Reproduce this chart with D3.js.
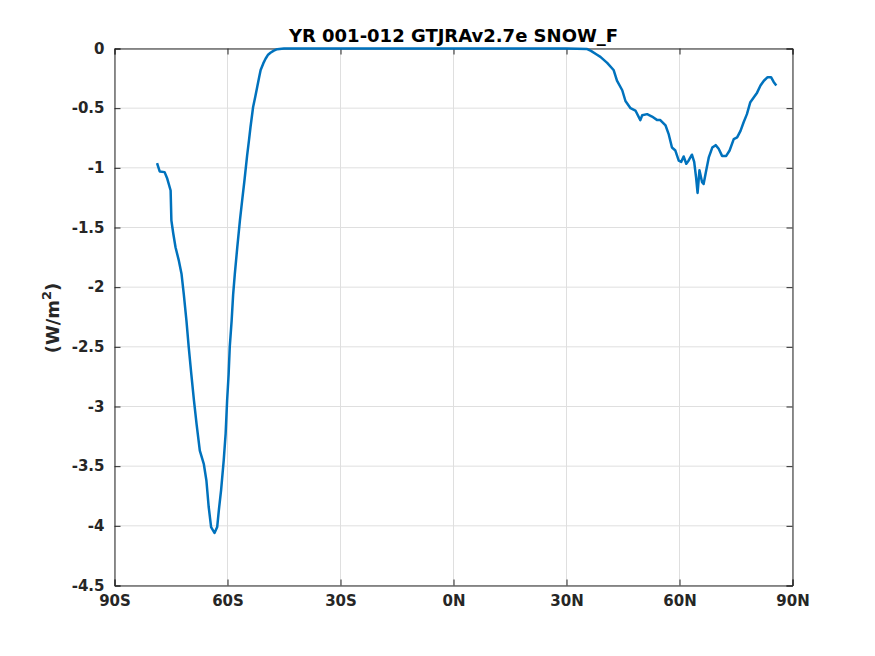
<!DOCTYPE html>
<html><head><meta charset="utf-8">
<script src="https://d3js.org/d3.v7.min.js"></script>
<style>body{margin:0;background:#fff}svg{display:block}text{font-family:"DejaVu Sans",sans-serif;font-weight:bold;fill:#262626}</style>
</head><body>
<script>
const lats = [-78.7,-78.0,-76.7,-76.0,-75.1,-74.9,-74.4,-73.8,-72.9,-72.2,-71.6,-70.9,-70.3,-69.6,-68.9,-68.2,-67.35,-66.3,-65.6,-65.0,-64.35,-63.45,-62.74,-62.3,-61.7,-61.0,-60.5,-60.1,-59.7,-59.4,-58.9,-58.5,-58.06,-57.4,-56.7,-56.1,-55.5,-54.8,-54.3,-53.9,-53.2,-52.6,-52.1,-51.6,-51.2,-50.5,-49.9,-49.3,-48.6,-47.7,-46.8,-45,0,30,35.5,36.5,38.0,39.0,40.8,42.5,43.4,44.8,45.65,47.0,48.3,49.6,50.1,51.4,52.7,54.1,54.9,56.3,57.1,58.0,58.9,59.8,60.45,61.1,61.8,62.4,63.3,63.9,64.4,64.8,65.3,66.0,66.4,67.1,67.8,68.7,69.6,70.4,71.3,72.4,73.3,74.4,75.3,76.2,77.0,77.9,78.8,79.7,80.6,81.5,82.4,83.4,84.3,85.0,85.7];
const snowF = [-0.96,-1.03,-1.036,-1.09,-1.19,-1.44,-1.55,-1.665,-1.78,-1.89,-2.06,-2.28,-2.50,-2.73,-2.95,-3.15,-3.37,-3.48,-3.62,-3.84,-4.01,-4.06,-4.01,-3.87,-3.70,-3.45,-3.23,-2.95,-2.73,-2.50,-2.28,-2.06,-1.89,-1.665,-1.44,-1.27,-1.106,-0.90,-0.77,-0.66,-0.49,-0.40,-0.32,-0.24,-0.18,-0.125,-0.086,-0.055,-0.036,-0.018,-0.006,0,0,0,-0.005,-0.02,-0.05,-0.07,-0.12,-0.18,-0.27,-0.35,-0.44,-0.50,-0.52,-0.60,-0.56,-0.55,-0.57,-0.60,-0.60,-0.645,-0.715,-0.83,-0.855,-0.94,-0.95,-0.905,-0.966,-0.94,-0.89,-0.95,-1.08,-1.21,-1.02,-1.12,-1.135,-1.02,-0.91,-0.83,-0.81,-0.84,-0.90,-0.90,-0.855,-0.76,-0.745,-0.69,-0.62,-0.55,-0.45,-0.41,-0.37,-0.31,-0.27,-0.24,-0.24,-0.28,-0.31];
const xTicks = [-90,-60,-30,0,30,60,90];
const xTickLabels = ["90S","60S","30S","0N","30N","60N","90N"];
const yTicks = [0,-0.5,-1,-1.5,-2,-2.5,-3,-3.5,-4,-4.5];
const titleText = "YR 001-012 GTJRAv2.7e SNOW_F";

const W=875,H=656, L=114.5, R=792.5, T=48.5, B=585.5;
const svg=d3.select("body").append("svg").attr("width",W).attr("height",H);
const x=d3.scaleLinear().domain([-90,90]).range([L,R]);
const y=d3.scaleLinear().domain([-4.5,0]).range([B,T]);

// grid
const g=svg.append("g");
g.selectAll(".vg").data(xTicks).join("line").attr("x1",d=>x(d)).attr("x2",d=>x(d)).attr("y1",T).attr("y2",B).attr("stroke","#dfdfdf").attr("stroke-width",1);
g.selectAll(".hg").data(yTicks).join("line").attr("x1",L).attr("x2",R).attr("y1",d=>y(d)).attr("y2",d=>y(d)).attr("stroke","#dfdfdf").attr("stroke-width",1);

// axes
const ax=d3.axisBottom(x).tickValues(xTicks).tickFormat((d,i)=>xTickLabels[i]).tickSize(-6).tickPadding(10);
const ay=d3.axisLeft(y).tickValues(yTicks).tickFormat(d=>d===0?"0":String(d)).tickSize(-6).tickPadding(10);
const axt=d3.axisTop(x).tickValues(xTicks).tickFormat("").tickSize(-6);
const ayr=d3.axisRight(y).tickValues(yTicks).tickFormat("").tickSize(-6);
function style(sel){sel.selectAll("path,line").attr("stroke","#262626").attr("stroke-width",1);sel.selectAll("text").attr("font-size",15).attr("fill","#262626").attr("font-family","DejaVu Sans").attr("font-weight","bold");}
svg.append("g").attr("transform",`translate(0,${B})`).call(ax).call(style).call(s=>s.selectAll("text").attr("dy","0.71em"));
svg.append("g").attr("transform",`translate(${L},0)`).call(ay).call(style);
svg.append("g").attr("transform",`translate(0,${T})`).call(axt).call(style);
svg.append("g").attr("transform",`translate(${R},0)`).call(ayr).call(style);

// data line
svg.append("path").datum(lats.map((d,i)=>[d,snowF[i]]))
  .attr("d",d3.line().x(d=>x(d[0])).y(d=>y(d[1])))
  .attr("fill","none").attr("stroke","#0072bd").attr("stroke-width",2.5).attr("stroke-linejoin","round");

// title
svg.append("text").attr("x",(L+R)/2).attr("y",42).attr("text-anchor","middle").attr("font-size",18).style("fill","#000").text(titleText);
// y label
const yl=svg.append("text").attr("transform",`translate(59,318) rotate(-90)`).attr("text-anchor","middle").attr("font-size",18);
yl.append("tspan").text("(W/m");
yl.append("tspan").attr("dy",-8).attr("font-size",13).text("2");
yl.append("tspan").attr("dy",8).text(")");
</script>
</body></html>
